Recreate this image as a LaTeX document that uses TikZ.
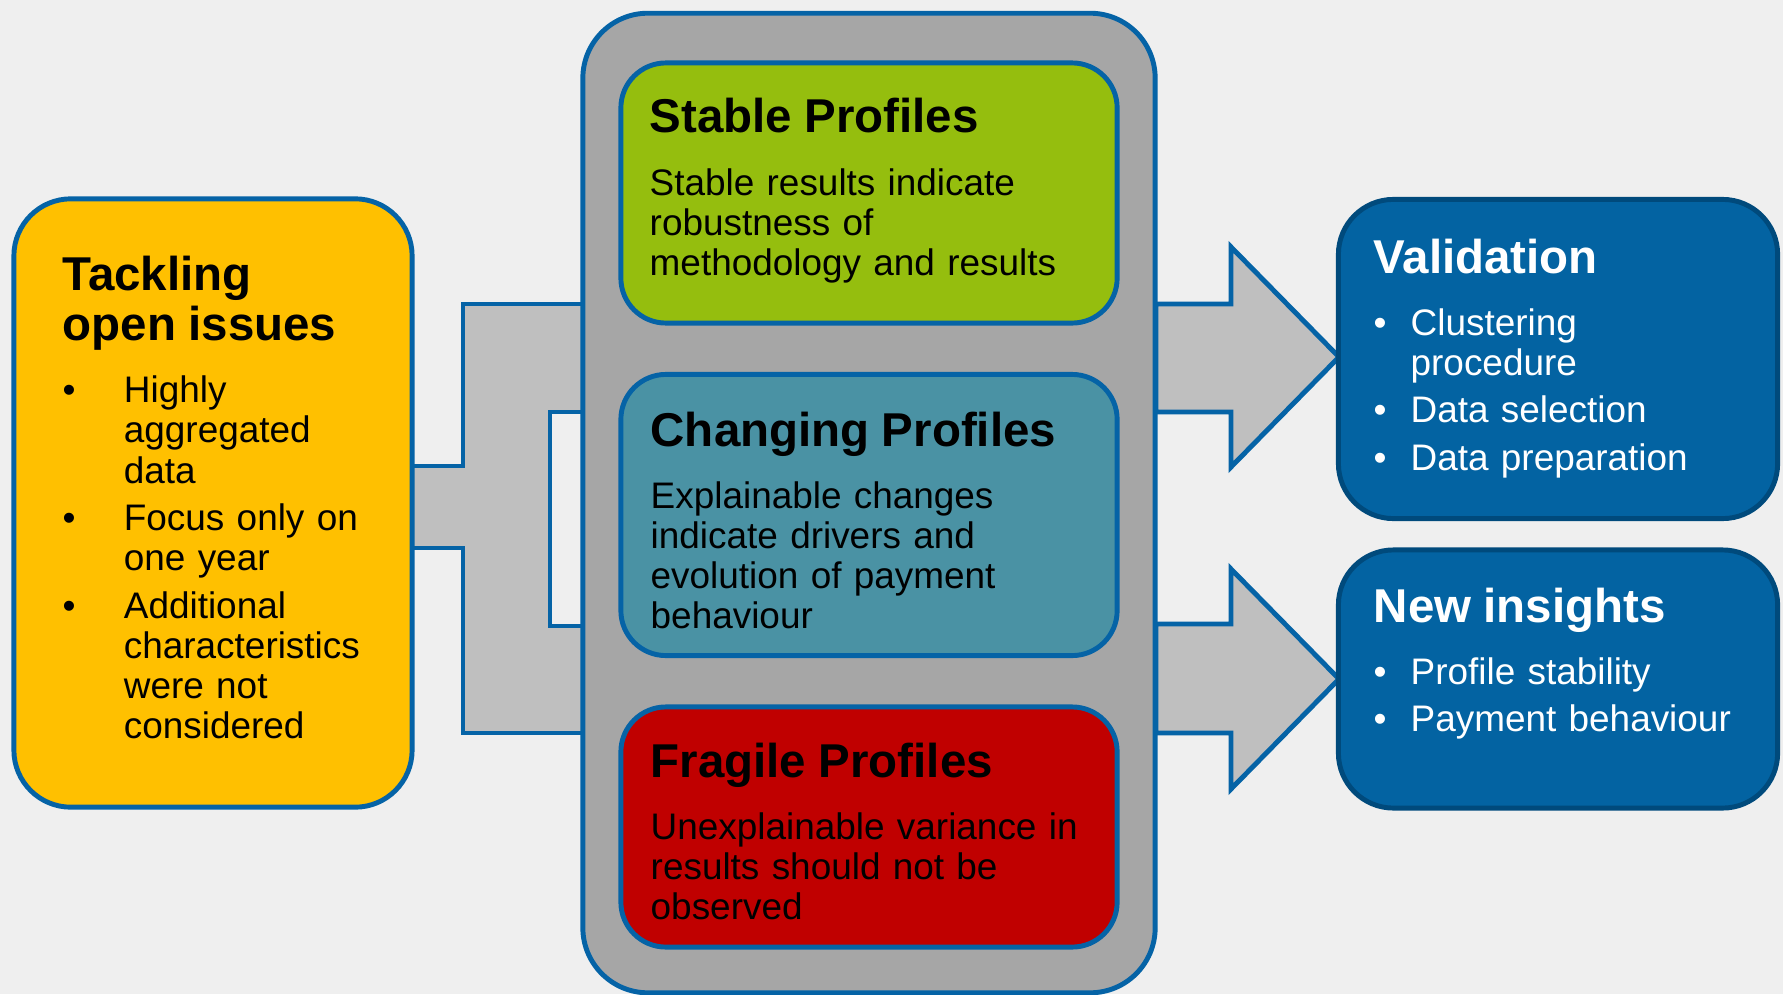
\documentclass[tikz,border=0pt]{standalone}
\usepackage{fontspec}
\setmainfont{Liberation Sans}
\usepackage{enumitem}
\usetikzlibrary{positioning}

\definecolor{paper}{RGB}{239,239,239}
\definecolor{edgeblue}{RGB}{5,99,166}
\definecolor{darkedge}{RGB}{0,74,124}
\definecolor{boxblue}{RGB}{3,99,162}
\definecolor{pipegrey}{RGB}{191,191,191}
\definecolor{framegrey}{RGB}{166,166,166}
\definecolor{issueyellow}{RGB}{255,192,0}
\definecolor{stablegreen}{RGB}{149,190,14}
\definecolor{changeteal}{RGB}{74,146,164}
\definecolor{fragilered}{RGB}{192,0,0}

\newcommand{\headfont}{\fontsize{13.5pt}{14.4pt}\selectfont\bfseries}
\newcommand{\bodyfont}{\fontsize{10.5pt}{11.4pt}\selectfont}

\begin{document}
\begin{tikzpicture}[
            x=0.01cm, y=-0.01cm,
            panel/.style = {draw=edgeblue, line width=1.4pt, rounded corners=0.45cm, inner sep=0pt},
            result/.style = {draw=darkedge, line width=1.4pt, fill=boxblue, rounded corners=0.55cm, inner sep=0pt},
            pipe/.style = {draw=edgeblue, line width=1.4pt, fill=pipegrey},
            txt/.style = {inner sep=0pt, anchor=base west, align=left, font=\bodyfont},
        ]
            % Page
            \fill[paper] (0,0) rectangle (1783,994);
            \useasboundingbox (0,0) rectangle (1783,994);

            % Feed from the issues box into the profiles
            \draw[pipe] (412,466) -- (463,466) -- (463,304) -- (583,304) -- (583,412)
                -- (550,412) -- (550,626) -- (583,626) -- (583,733) -- (463,733)
                -- (463,548) -- (412,548) -- cycle;

            % Block arrows towards the outcomes
            \draw[pipe] (1156,304) -- (1231,304) -- (1231,247) -- (1339,357)
                -- (1231,467) -- (1231,412) -- (1156,412) -- cycle;
            \draw[pipe] (1156,624) -- (1231,624) -- (1231,569) -- (1339,679)
                -- (1231,789) -- (1231,733) -- (1156,733) -- cycle;

            % Boxes
            \node[panel, fill=issueyellow, rounded corners=0.57cm, minimum width=3.98cm, minimum height=6.08cm] (issues) at (213,503) {};
            \node[panel, fill=framegrey, rounded corners=0.65cm, minimum width=5.72cm, minimum height=9.79cm] (frame) at (869,503) {};
            \node[panel, fill=stablegreen, minimum width=4.96cm, minimum height=2.60cm] (stable) at (869,193) {};
            \node[panel, fill=changeteal, minimum width=4.96cm, minimum height=2.81cm] (changing) at (869,515) {};
            \node[panel, fill=fragilered, minimum width=4.96cm, minimum height=2.40cm] (fragile) at (869,827) {};
            \node[result, minimum width=4.39cm, minimum height=3.19cm] (validation) at (1558,359) {};
            \node[result, minimum width=4.39cm, minimum height=2.58cm] (insights) at (1558,679) {};

            % Texts
            \node[txt, text width=3.3cm] (issues-txt) at (62,290)
                {{\headfont Tackling\\open issues\par}\vspace{6.3pt}
                 \begin{itemize}[label=\textbullet, leftmargin=17.4pt, labelwidth=17.4pt, labelsep=0pt, align=left,
                                 topsep=0pt, partopsep=0pt, parsep=0pt, itemsep=2.1pt]
                 \item Highly\\aggregated\\data
                 \item Focus only on\\one year
                 \item Additional\\characteristics\\were not\\considered
                 \end{itemize}};
            \node[txt, text width=4.7cm] (stable-txt) at (649,133)
                {{\headfont Stable Profiles}\par\vspace{6.3pt}
                 Stable results indicate\\robustness of\\methodology and results};
            \node[txt, text width=4.7cm] (changing-txt) at (650,446)
                {{\headfont Changing Profiles}\par\vspace{6.3pt}
                 Explainable changes\\indicate drivers and\\evolution of payment\\behaviour};
            \node[txt, text width=4.7cm] (fragile-txt) at (650,777)
                {{\headfont Fragile Profiles}\par\vspace{6.3pt}
                 Unexplainable variance in\\results should not be\\observed};
            \node[txt, text=white, text width=3.9cm] (validation-txt) at (1373,273)
                {{\headfont Validation}\par\vspace{6.3pt}
                 \begin{itemize}[label=\textbullet, leftmargin=10.5pt, labelwidth=10.5pt, labelsep=0pt, align=left,
                                 topsep=0pt, partopsep=0pt, parsep=0pt, itemsep=2.1pt]
                 \item Clustering\\procedure
                 \item Data selection
                 \item Data preparation
                 \end{itemize}};
            \node[txt, text=white, text width=3.9cm] (insights-txt) at (1373,622)
                {{\headfont New insights}\par\vspace{6.3pt}
                 \begin{itemize}[label=\textbullet, leftmargin=10.5pt, labelwidth=10.5pt, labelsep=0pt, align=left,
                                 topsep=0pt, partopsep=0pt, parsep=0pt, itemsep=2.1pt]
                 \item Profile stability
                 \item Payment behaviour
                 \end{itemize}};
        \end{tikzpicture}
\end{document}
